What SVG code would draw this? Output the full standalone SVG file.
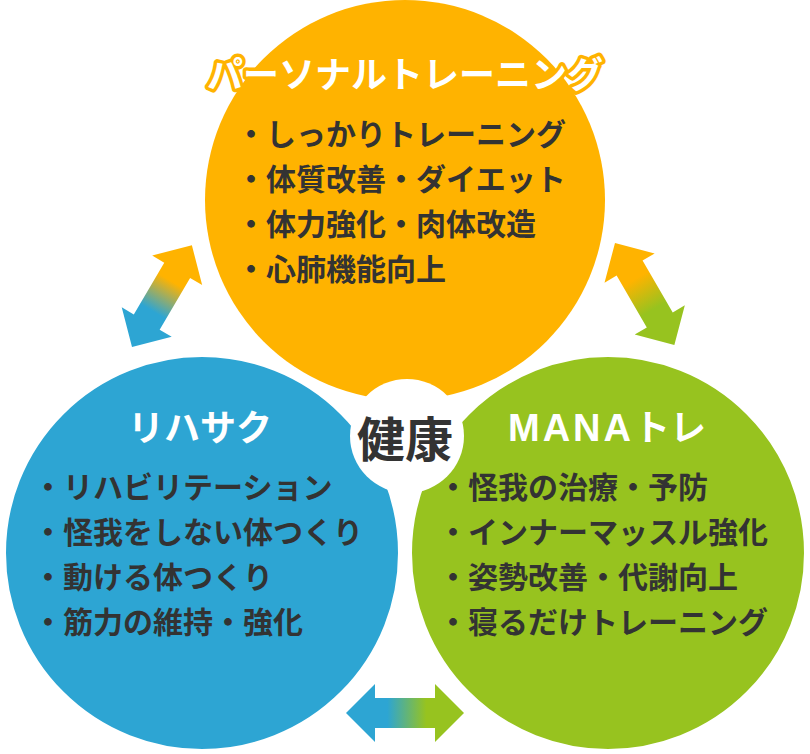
<svg xmlns="http://www.w3.org/2000/svg" width="810" height="754" viewBox="0 0 810 754">
<defs>
<style>
.title{font-family:"Noto Sans CJK JP","Noto Sans",sans-serif;font-weight:700;font-size:36px;fill:#fff;text-anchor:middle}
.latin{font-family:"Liberation Sans",Arial,sans-serif;font-size:38px;letter-spacing:3px}
.item{font-family:"Noto Sans CJK JP","Noto Sans",sans-serif;font-weight:700;font-size:30px;fill:#333}
.center{font-family:"Noto Sans CJK JP",sans-serif;font-weight:700;font-size:48px;fill:#333;text-anchor:middle}
</style>
<linearGradient id="gBO" x1="0" y1="0" x2="1" y2="0">
<stop offset="0.35" stop-color="#2DA5D3"/><stop offset="0.65" stop-color="#FFB300"/>
</linearGradient>
<linearGradient id="gOG" x1="0" y1="0" x2="1" y2="0">
<stop offset="0.35" stop-color="#FFB300"/><stop offset="0.65" stop-color="#97C31F"/>
</linearGradient>
<linearGradient id="gBG" x1="0" y1="0" x2="1" y2="0">
<stop offset="0.35" stop-color="#2DA5D3"/><stop offset="0.68" stop-color="#97C31F"/>
</linearGradient>
<polygon id="arr" points="0,0 29,-29 29,-15 89,-15 89,-29 118,0 89,29 89,15 29,15 29,29"/>
</defs>
<g id="connectors">
<use href="#arr" fill="url(#gBO)" transform="translate(132,347) rotate(-59.5)"/>
<use href="#arr" fill="url(#gOG)" transform="translate(615,243) rotate(59.8)"/>
<use href="#arr" fill="url(#gBG)" transform="translate(346,713)"/>
</g>
<g id="personal">
<circle cx="405" cy="200" r="200" fill="#FFB300"/>
<text class="title" x="405" y="88" stroke="#FFB300" stroke-width="7" stroke-linejoin="round" paint-order="stroke">パーソナルトレーニング</text>
<text class="item" x="236" y="145">・しっかりトレーニング</text>
<text class="item" x="236" y="190">・体質改善・ダイエット</text>
<text class="item" x="236" y="235">・体力強化・肉体改造</text>
<text class="item" x="236" y="280">・心肺機能向上</text>
</g>
<g id="rehasaku">
<circle cx="202" cy="553" r="200" fill="#2DA5D3" stroke="#fff" stroke-width="8"/>
<text class="title" x="200" y="441">リハサク</text>
<text class="item" x="33" y="498">・リハビリテーション</text>
<text class="item" x="33" y="543">・怪我をしない体つくり</text>
<text class="item" x="33" y="588">・動ける体つくり</text>
<text class="item" x="33" y="633">・筋力の維持・強化</text>
</g>
<g id="mana">
<circle cx="608" cy="553" r="200" fill="#97C31F" stroke="#fff" stroke-width="8"/>
<text class="title" x="607" y="441"><tspan class="latin">MANA</tspan>トレ</text>
<text class="item" x="438" y="498">・怪我の治療・予防</text>
<text class="item" x="438" y="543">・インナーマッスル強化</text>
<text class="item" x="438" y="588">・姿勢改善・代謝向上</text>
<text class="item" x="438" y="633">・寝るだけトレーニング</text>
</g>
<g id="kenkou">
<circle cx="407" cy="436" r="57" fill="#fff"/>
<text class="center" x="405" y="457">健康</text>
</g>
</svg>
